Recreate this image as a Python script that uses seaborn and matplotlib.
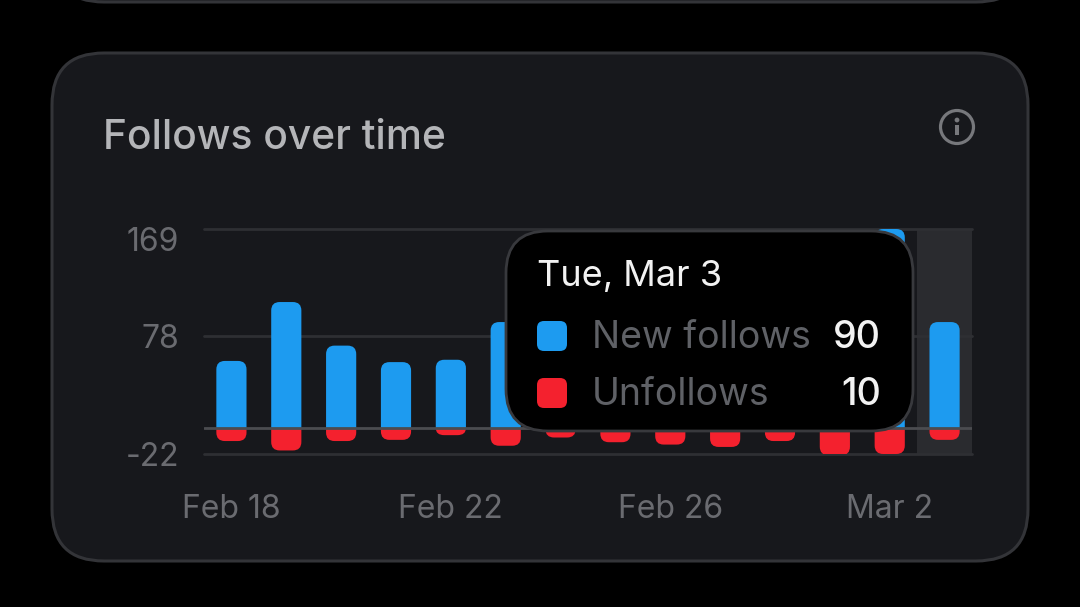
import pandas as pd
import matplotlib
matplotlib.use("Agg")
import matplotlib.pyplot as plt
import seaborn as sns
from matplotlib.patches import FancyBboxPatch, PathPatch, Circle, Rectangle
from matplotlib.path import Path
from matplotlib.transforms import ScaledTranslation

# chart data (days 6-11 sit mostly behind the tooltip)
days = ["Feb 18", "Feb 19", "Feb 20", "Feb 21", "Feb 22", "Feb 23", "Feb 24",
        "Feb 25", "Feb 26", "Feb 27", "Feb 28", "Mar 1", "Mar 2", "Mar 3"]
new_follows = [57, 107, 70, 56, 58, 90, 62, 70, 66, 60, 78, 110, 169, 90]
unfollows = [-11, -19, -11, -10, -6, -15, -8, -12, -14, -16, -11, -23, -22, -10]
y_ticks = [-22, 78, 169]
x_tick_days = ["Feb 18", "Feb 22", "Feb 26", "Mar 2"]

title = "Follows over time"
tooltip_date = "Tue, Mar 3"
tooltip_rows = [("New follows", "90"), ("Unfollows", "10")]

BLUE = "#1d9bf0"
RED = "#f4212e"
CARD = "#17181c"
BORDER = "#333438"
GRID = "#2e2f33"
ZERO = "#4b4c50"
BAND = "#2a2b2f"
MUTED = "#6a6b70"
W, H = 1080, 607

sns.set_theme(style="dark")
plt.rcParams["font.family"] = ["Inter", "DejaVu Sans"]

fig = plt.figure(figsize=(W / 100, H / 100), dpi=100, facecolor="black")


def pixel_axes(zorder):
    # overlay axes working in image pixels, y going down
    a = fig.add_axes([0, 0, 1, 1], zorder=zorder)
    a.set_xlim(0, W)
    a.set_ylim(H, 0)
    a.axis("off")
    return a


def round_box(a, x0, y0, x1, y1, r, face, edge="none", lw=0):
    box = FancyBboxPatch((x0 + r, y0 + r), x1 - x0 - 2 * r, y1 - y0 - 2 * r,
                         boxstyle=f"round,pad={r},rounding_size={r}",
                         fc=face, ec=edge, lw=lw)
    a.add_patch(box)


# --- background cards ---
back = pixel_axes(0)
round_box(back, 52, -400, 1028, 2, 52, CARD, BORDER, 2.2)
round_box(back, 52, 53, 1028, 561, 52, CARD, BORDER, 2.2)
back.text(103, 138, title, color="#b4b5b8", fontsize=29.3, va="center", ha="left",
          fontweight="medium")

# info icon
back.add_patch(Circle((957, 127), 16.5, fc="none", ec="#77787c", lw=2.3))
back.add_patch(Circle((957, 120), 2.4, fc="#77787c", ec="none"))
back.add_patch(Rectangle((955, 125), 4, 10, fc="#77787c", ec="none"))

# --- the chart itself ---
ax = fig.add_axes([204 / W, 1 - 454 / H, 768 / W, (454 - 229) / H], zorder=1)
ax.patch.set_alpha(0)

df = pd.DataFrame({"day": days, "New follows": new_follows, "Unfollows": unfollows})
long_df = df.melt(id_vars="day", var_name="series", value_name="count")
sns.barplot(data=long_df, x="day", y="count", hue="series", order=days, dodge=False,
            palette={"New follows": BLUE, "Unfollows": RED}, width=0.55, legend=False,
            saturation=1, ax=ax, zorder=3)

ax.set_xlim(-0.5, len(days) - 0.5)
ax.set_ylim(y_ticks[0], y_ticks[-1])
ax.axvspan(12.5, 13.5, color=BAND, lw=0, zorder=1)
for v in y_ticks:
    ax.axhline(v, color=GRID, lw=2, zorder=2, clip_on=False)
ax.axhline(0, color=ZERO, lw=2, zorder=4)


def round_bar(a, bar, r_px=8.5):
    # swap the square bar for one with rounded corners at its far end
    x0, w = bar.get_x(), bar.get_width()
    base, h = bar.get_y(), bar.get_height()
    tip = base + h
    sign = 1 if h > 0 else -1
    rx = r_px * (len(days) / 768)
    ry = min(r_px * ((y_ticks[-1] - y_ticks[0]) / 225), abs(h))
    verts = [(x0, base), (x0, tip - sign * ry), (x0, tip), (x0 + rx, tip),
             (x0 + w - rx, tip), (x0 + w, tip), (x0 + w, tip - sign * ry),
             (x0 + w, base), (x0, base)]
    codes = [Path.MOVETO, Path.LINETO, Path.CURVE3, Path.CURVE3, Path.LINETO,
             Path.CURVE3, Path.CURVE3, Path.LINETO, Path.CLOSEPOLY]
    a.add_patch(PathPatch(Path(verts, codes), fc=bar.get_facecolor(), ec="none", zorder=3))
    bar.remove()


for bar in list(ax.patches):
    if isinstance(bar, Rectangle) and bar.get_width() < 0.9:
        round_bar(ax, bar)

sns.despine(ax=ax, left=True, bottom=True)
ax.grid(False)
ax.set_xlabel("")
ax.set_ylabel("")
ax.set_yticks(y_ticks, [str(v) for v in y_ticks])
ax.set_xticks([days.index(d) for d in x_tick_days], x_tick_days)
ax.tick_params(axis="y", length=0, pad=18, labelsize=23, labelcolor=MUTED)
ax.tick_params(axis="x", length=0, pad=29, labelsize=23, labelcolor=MUTED)

# top label sits a bit below its gridline
top_label = ax.get_yticklabels()[-1]
top_label.set_transform(top_label.get_transform() + ScaledTranslation(0, -7 / 72, fig.dpi_scale_trans))

# --- tooltip on top of everything ---
tip = pixel_axes(2)
round_box(tip, 506, 231, 913, 431, 42, "black", "#38393d", 2)
tip.text(537, 277, tooltip_date, color="#f2f2f2", fontsize=26, va="center", ha="left")
for (label, value), y, color in zip(tooltip_rows, [336, 393], [BLUE, RED]):
    round_box(tip, 537, y - 15, 567, y + 15, 7, color)
    tip.text(592, y + 2, label, color="#5f6166", fontsize=27, va="center", ha="left")
    tip.text(881, y + 2, value, color="#f2f2f2", fontsize=27, va="center", ha="right",
             fontweight="medium")

fig.savefig("out.png", dpi=100, facecolor="black")
